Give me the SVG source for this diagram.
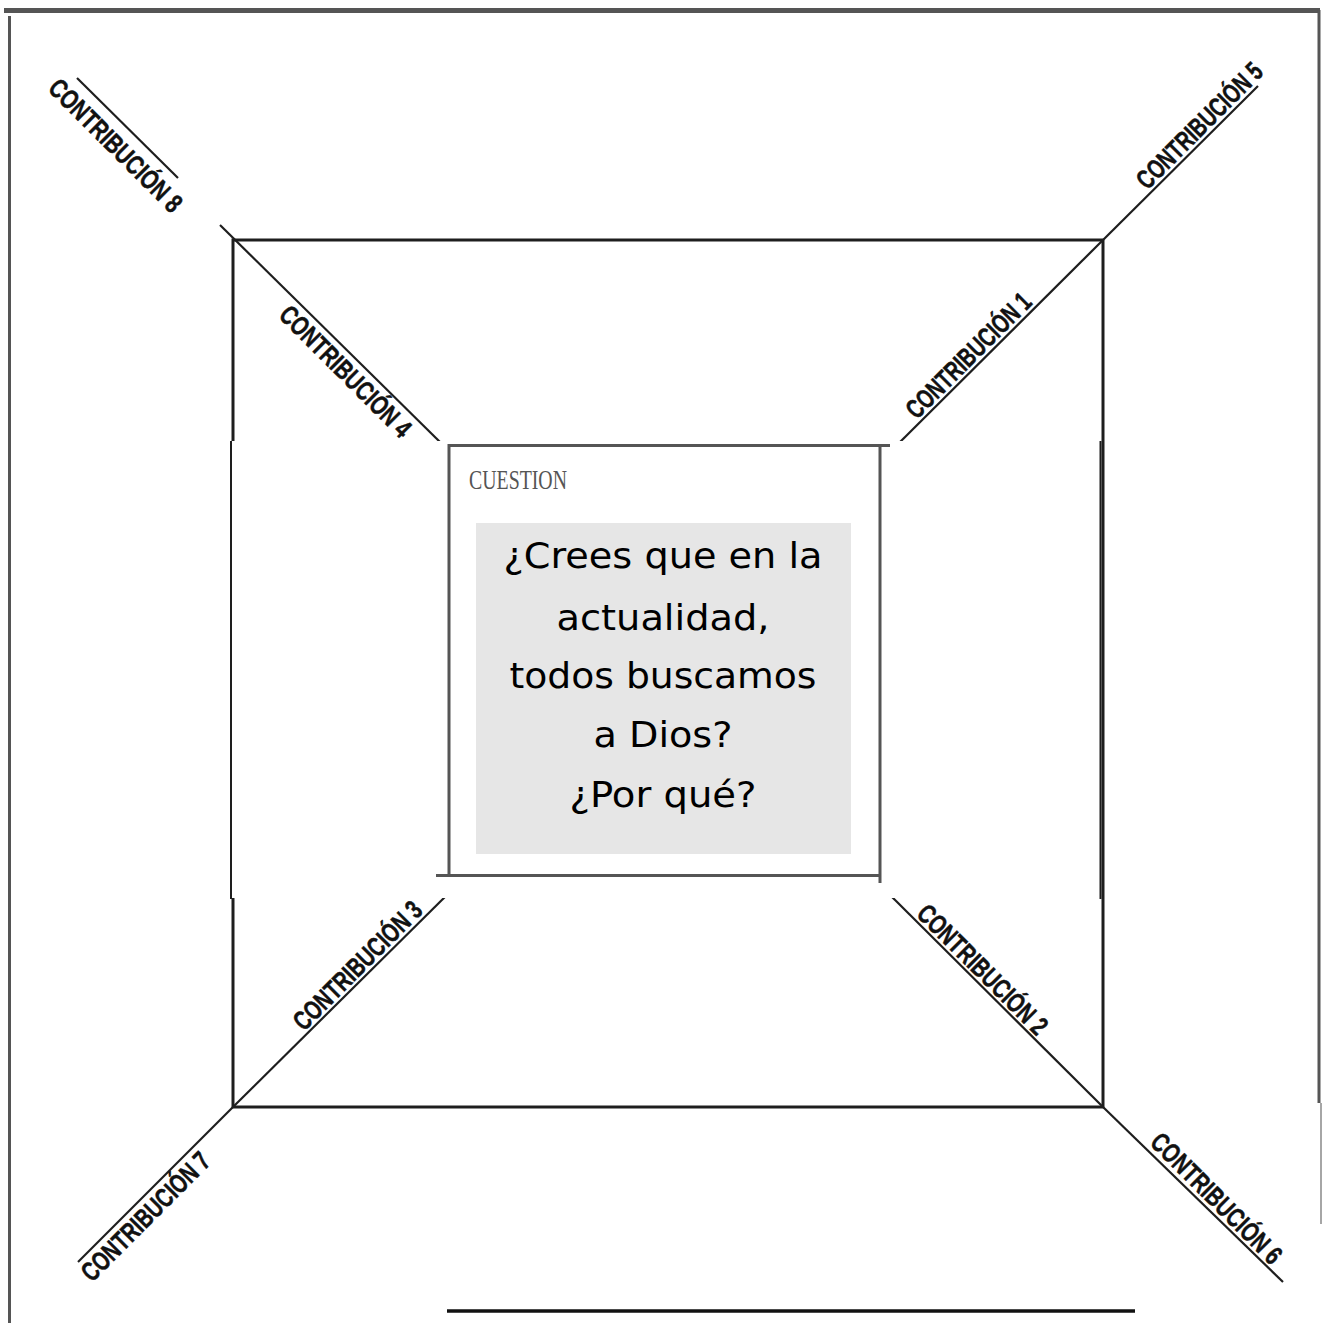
<svg xmlns="http://www.w3.org/2000/svg" width="1323" height="1323" viewBox="0 0 1323 1323">
<style>
.frame{stroke:#555;fill:none}
.sq{stroke:#1e1e1e;stroke-width:3;fill:none}
.diag{stroke:#1e1e1e;stroke-width:2.2;fill:none}
.lbl{font-family:"Liberation Sans",Arial,sans-serif;font-weight:bold;font-size:27px;fill:#111;stroke:#111;stroke-width:0.5}
.q{font-family:"DejaVu Sans","Noto Sans",sans-serif;font-size:36px;fill:#000}
.box{stroke:#555;stroke-width:3;fill:none}
</style>
<rect width="1323" height="1323" fill="#fff"/>
<g id="frame">
<line class="frame" x1="4" y1="10.5" x2="1320" y2="10.5" stroke-width="5"/>
<line class="frame" x1="9.5" y1="16" x2="9.5" y2="1323" stroke-width="3"/>
<line class="frame" x1="1319" y1="10" x2="1319" y2="1103" stroke-width="3"/>
<line x1="1321" y1="1103" x2="1321" y2="1224" stroke="#888" stroke-width="1.5"/>
<line x1="447" y1="1311" x2="1135" y2="1311" stroke="#111" stroke-width="3.5"/>
</g>
<g id="square">
<rect class="sq" x="233" y="240" width="870" height="867"/>
</g>
<g id="connectors">
<line class="diag" x1="220" y1="225" x2="440" y2="442"/>
<line class="diag" x1="77" y1="78" x2="178" y2="178"/>
<line class="diag" x1="890" y1="452" x2="1103" y2="240"/>
<line class="diag" x1="1103" y1="240" x2="1258" y2="86"/>
<line class="diag" x1="455" y1="887" x2="233" y2="1107"/>
<line class="diag" x1="233" y1="1107" x2="78" y2="1262"/>
<line class="diag" x1="881" y1="886" x2="1103" y2="1107"/>
<line class="diag" x1="1103" y1="1107" x2="1283" y2="1282"/>
</g>
<g id="middle-band">
<rect x="231" y="441" width="870" height="457" fill="#fff"/>
<line x1="231" y1="441" x2="231" y2="899" stroke="#1e1e1e" stroke-width="2"/>
<line x1="1100.5" y1="441" x2="1100.5" y2="899" stroke="#1e1e1e" stroke-width="2"/>
</g>
<g id="labels">
<g id="c1"><text class="lbl" transform="translate(975,362) rotate(-45)" text-anchor="middle" textLength="165" lengthAdjust="spacingAndGlyphs">CONTRIBUCIÓN 1</text></g>
<g id="c2"><text class="lbl" transform="translate(976,976) rotate(45)" text-anchor="middle" textLength="172" lengthAdjust="spacingAndGlyphs">CONTRIBUCIÓN 2</text></g>
<g id="c3"><text class="lbl" transform="translate(364,972) rotate(-45)" text-anchor="middle" textLength="170" lengthAdjust="spacingAndGlyphs">CONTRIBUCIÓN 3</text></g>
<g id="c4"><text class="lbl" transform="translate(339,378) rotate(45)" text-anchor="middle" textLength="174" lengthAdjust="spacingAndGlyphs">CONTRIBUCIÓN 4</text></g>
<g id="c5"><text class="lbl" transform="translate(1206,132) rotate(-45)" text-anchor="middle" textLength="166" lengthAdjust="spacingAndGlyphs">CONTRIBUCIÓN 5</text></g>
<g id="c6"><text class="lbl" transform="translate(1210,1205) rotate(45)" text-anchor="middle" textLength="173" lengthAdjust="spacingAndGlyphs">CONTRIBUCIÓN 6</text></g>
<g id="c7"><text class="lbl" transform="translate(152,1223) rotate(-45)" text-anchor="middle" textLength="170" lengthAdjust="spacingAndGlyphs">CONTRIBUCIÓN 7</text></g>
<g id="c8"><text class="lbl" transform="translate(109,152) rotate(45)" text-anchor="middle" textLength="176" lengthAdjust="spacingAndGlyphs">CONTRIBUCIÓN 8</text></g>
</g>
<g id="center-box">
<line class="box" x1="449" y1="444" x2="449" y2="875"/>
<line class="box" x1="448" y1="445.5" x2="890" y2="445.5"/>
<line class="box" x1="880" y1="444" x2="880" y2="883"/>
<line class="box" x1="436" y1="875.5" x2="881" y2="875.5"/>
<text x="469" y="489" font-family="'Liberation Serif','Times New Roman',serif" font-size="28" fill="#555" textLength="98" lengthAdjust="spacingAndGlyphs">CUESTION</text>
<rect x="476" y="523" width="375" height="331" fill="#e6e6e6"/>
<text class="q" x="663" y="568" text-anchor="middle" textLength="319" lengthAdjust="spacingAndGlyphs">¿Crees que en la</text>
<text class="q" x="663" y="630" text-anchor="middle" textLength="213" lengthAdjust="spacingAndGlyphs">actualidad,</text>
<text class="q" x="663" y="688" text-anchor="middle" textLength="307" lengthAdjust="spacingAndGlyphs">todos buscamos</text>
<text class="q" x="663" y="747" text-anchor="middle" textLength="139" lengthAdjust="spacingAndGlyphs">a Dios?</text>
<text class="q" x="663" y="807" text-anchor="middle" textLength="187" lengthAdjust="spacingAndGlyphs">¿Por qué?</text>
</g>
</svg>
